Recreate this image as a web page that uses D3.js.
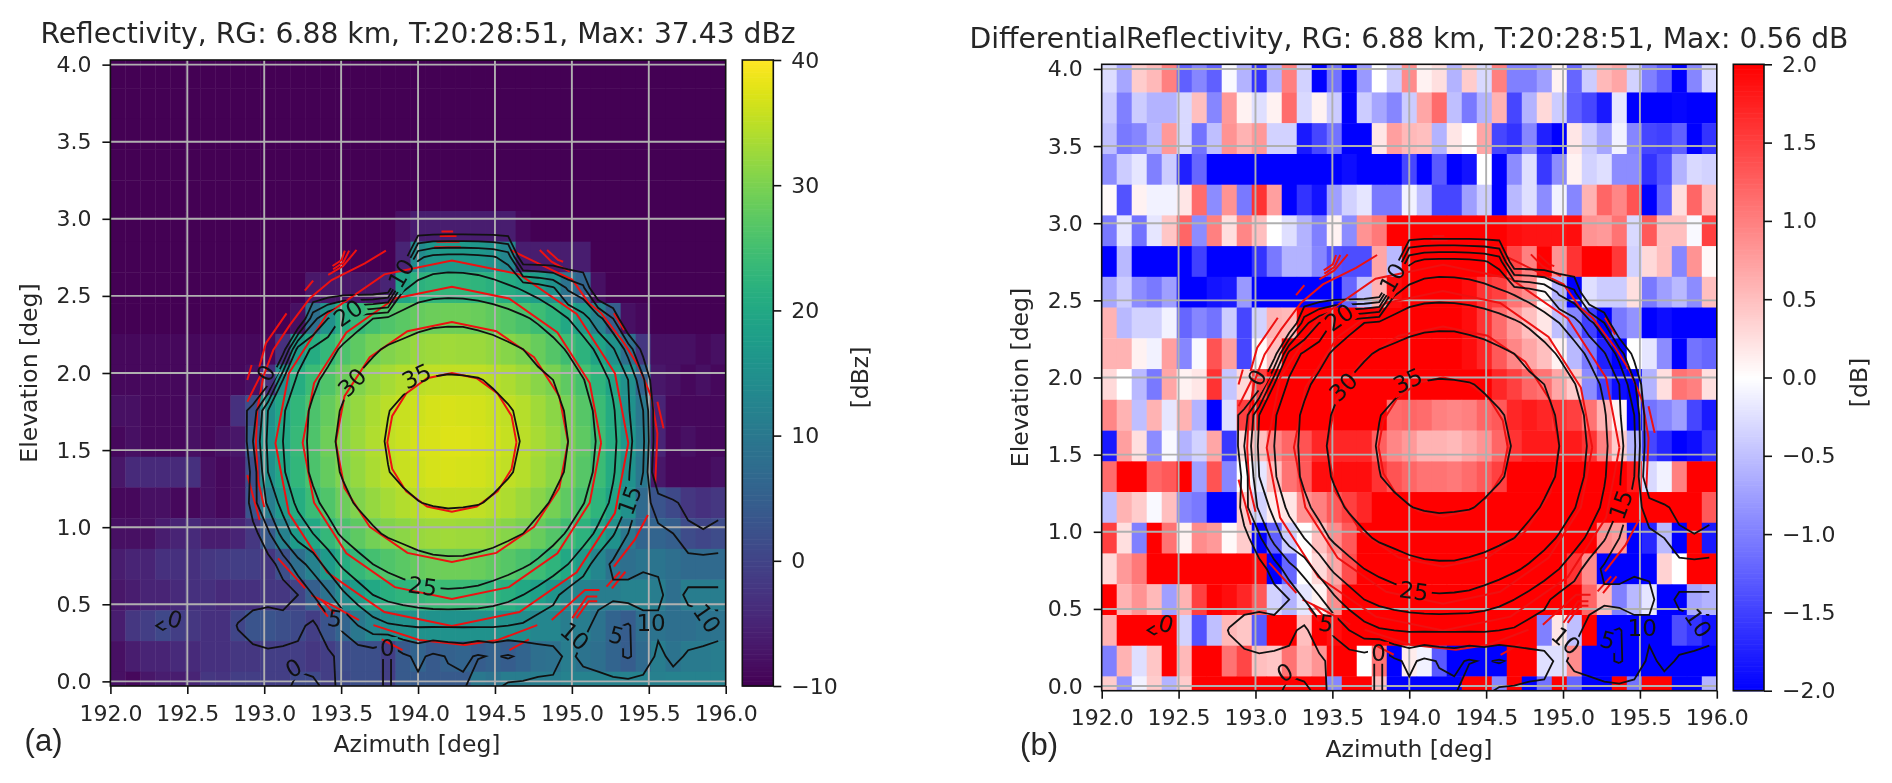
<!DOCTYPE html>
<html>
<head>
<meta charset="utf-8">
<script src="https://cdn.jsdelivr.net/npm/d3@7"></script>
<style>
  html, body { margin: 0; padding: 0; background: #fff; }
  svg { display: block; filter: blur(0.45px); }
  text { font-family: "DejaVu Sans"; fill: #262626; }
</style>
</head>
<body>
<svg id="fig" width="1892" height="783"></svg>
<script>
// grid of the scan: 41 azimuth columns, 21 elevation rows (top row first)
var azimuthTicks = [192, 192.5, 193, 193.5, 194, 194.5, 195, 195.5, 196];
var elevationTicks = [0, 0.5, 1, 1.5, 2, 2.5, 3, 3.5, 4];
var elevations = [3.947, 3.748, 3.549, 3.349, 3.15, 2.951, 2.752, 2.553, 2.354, 2.154, 1.955, 1.756, 1.556, 1.357, 1.158, 0.959, 0.76, 0.56, 0.361, 0.162, -0.037];
var azStep = 4 / 41, elStep = 0.1992;

var reflectivityTicks = [-10, 0, 10, 20, 30, 40];
var zdrTicks = [-2, -1.5, -1, -0.5, 0, 0.5, 1, 1.5, 2];
var contourLevels = [0, 5, 10, 15, 20, 25, 30, 35];

var reflectivity = [
[-10,-10,-10,-10,-10,-10,-10,-10,-10,-10,-10,-10,-10,-10,-10,-10,-10,-10,-10,-10,-10,-10,-10,-10,-10,-10,-10,-10,-10,-10,-10,-10,-10,-10,-10,-10,-10,-10,-10,-10,-10],
[-10,-10,-10,-10,-10,-10,-10,-10,-10,-10,-10,-10,-10,-10,-10,-10,-10,-10,-10,-10,-10,-10,-10,-10,-10,-10,-10,-10,-10,-10,-10,-10,-10,-10,-10,-10,-10,-10,-10,-10,-10],
[-10,-10,-10,-10,-10,-10,-10,-10,-10,-10,-10,-10,-10,-10,-10,-10,-10,-10,-10,-10,-10,-10,-10,-10,-10,-10,-10,-10,-10,-10,-10,-10,-10,-10,-10,-10,-10,-10,-10,-10,-10],
[-10,-10,-10,-10,-10,-10,-10,-10,-10,-10,-10,-10,-10,-10,-10,-10,-10,-10,-10,-10,-10,-10,-10,-10,-10,-10,-10,-10,-10,-10,-10,-10,-10,-10,-10,-10,-10,-10,-10,-10,-10],
[-10,-10,-10,-10,-10,-10,-10,-10,-10,-10,-10,-10,-10,-10,-10,-10,-10,-10,-10,-10,-10,-10,-10,-10,-10,-10,-10,-10,-10,-10,-10,-10,-10,-10,-10,-10,-10,-10,-10,-10,-10],
[-10,-10,-10,-10,-10,-10,-10,-10,-10,-10,-10,-10,-10,-10,-10,-10,-10,-10,-10,-8,-6,-6,-6,-6,-6,-6,-6,-9,-10,-10,-10,-10,-10,-10,-10,-10,-10,-10,-10,-10,-10],
[-10,-10,-10,-10,-10,-10,-10,-10,-10,-10,-10,-10,-10,-10,-10,-10,-10,-10,-10,-5,14,16.5,17,17,16.5,15.5,13,-6,-6,-6,-6,-6,-10,-10,-10,-10,-10,-10,-10,-10,-10],
[-10,-10,-10,-10,-10,-10,-10,-10,-10,-10,-10,-10,-10,-7,-7,-7,-7,-7,-5,19,22,22.8,23,22.8,22.5,21.8,20.8,19.4,17.8,15.5,9,6,-8,-10,-10,-10,-10,-10,-10,-10,-10],
[-10,-10,-10,-10,-10,-10,-10,-10,-10,-10,-10,-10,-8,8,15,21,23.3,25,26.3,27.3,28.2,28.8,29,29,28.5,27.8,26.9,25.7,24.2,22.5,20,17,12,5,-8,-9,-10,-10,-10,-10,-10],
[-9,-9,-9,-9,-9,-9,-9,-9,-9,-9,-9,-3,17,20.8,23.3,25.8,27.5,29.3,30.6,31.4,32.2,32.6,32.8,32.7,32.4,31.9,31,30,28.4,26.6,24.5,22.2,19,15.5,8,-2,-8,-8,-8,-9,-8],
[-9,-9,-9,-9,-9,-9,-9,-9,-9,-8,-3,15,21,24,26.3,28.7,30.6,32,33.2,34.2,34.9,35.3,35.5,35.4,35.2,34.6,33.9,32.6,31.2,30,27.6,25.2,22.5,19,15,6,-7,-8,-9,-8,-9],
[-8,-8,-9,-9,-9,-8,-9,-9,-3,2,15,19.5,23,25.8,28.2,30.5,32.1,33.6,34.9,35.8,36.2,36.7,36.9,36.8,36.5,36,35.3,34.4,32.9,31.3,29.5,26.8,24,20.5,15.5,10,-5,-9,-9,-9,-9],
[-9,-8,-9,-9,-9,-8,-9,-8,-7,5,16,20,23.5,26,29,31,32.5,34,35.3,36,36.7,37,37.4,37.3,37,36.5,35.7,34.8,33.4,32,30,27.6,24.5,21,16.5,11,-5,-9,-8,-9,-9],
[-7,-4,-4,-4,-4,-3,-8,-9,-8,2,15,19.5,23,25.8,28.2,30.5,32.1,33.6,34.9,35.8,36.2,36.7,36.9,36.8,36.5,36,35.3,34.4,32.9,31.3,29.5,26.8,24,20.5,15.5,10,-7,-9,-9,-9,-8],
[-9,-9,-8,-8,-9,-9,-8,-9,-8,3,11,17,21,24,26.3,28.7,30.6,32,33.2,34.2,34.9,35.3,35.5,35.4,35.2,34.6,33.9,32.6,31.2,29.5,27.6,25.2,22.5,19,15,7,3,1,-2,-3,-2],
[-8,-8,-8,-6,-5,-4,-6,-6,-5,-2,4,12,17.5,20,23.3,25.8,27.5,29.3,30.6,31.4,32.2,32.6,32.8,32.7,32.4,31.9,31,30,28.4,26.6,24.5,22.2,19,15.5,10,6,6,5,1.5,0.5,1.5],
[-6,-5,-5,-3,-3,-3,-2,-1.5,-1,-1,-2,2,8,12,17,21,23.3,25,26.3,27.3,28.2,28.8,29,29,28.5,27.8,26.9,25.7,24.2,22.5,20,17,13,9,8,9.3,9.3,8,7,7,7],
[-7,-6,-5,-5,-4,-3,-3,-4,-3,-3,-2,-2,0,5,9,14,17.5,20,21.5,22.5,23.2,23.8,24,23.8,23.5,22.6,21.5,20,18.3,16,13.5,12,11,11,12,12,11,8,11,11,11],
[-6,-2,-1,0.8,-1,-2,-3,-3,0.3,3,3,2,1,-1,3,6,10,13,14.5,15,15.5,15.5,15.5,15.5,15.5,15.5,15,14.5,13,13,11,11,9,6,4.5,8,9,8,8,9,9],
[-8,-6,-5,-5,-4,-4,-3,-3,-2,-2,-1,-1,-1,-2,-1,1.5,2,2,-1,4,6,4,5.3,6,4.5,5.5,4.5,6,8,8.5,11,9,8,6,4.5,7,11,9,10.5,10.5,11],
[-8,-9,-7,-6,-6,-5,-2,-2.5,-1,-1,-1,-1,1,1,-1,1,2,2,-1,4,4,4,4,4,10,9,11,11,11,11,12,12,12,12,12,12,11.5,12,12,12,12]
];

var zdr = [
[-0.27,-0.7,0.4,0.55,1,-1.25,-0.95,-1.25,-0.05,-0.6,-1.6,-0.6,1,-0.35,-2,-1.1,-2,-0.8,0,-0.4,0.9,0.1,0.25,-0.6,0.4,-0.3,1,-1,-1,-0.75,0.1,-1.2,-0.4,0.55,0.7,-0.35,-1,-1.25,-2,-0.95,-0.3],
[-0.4,-1,-0.4,-0.6,-0.6,-0.3,0.5,-0.95,0.8,0.1,-0.25,0.1,1.15,-0.3,0.1,-0.4,-2,-0.4,-0.7,-0.95,-0.4,0.7,1.15,-0.5,-1.05,-0.6,0.6,-1.45,-0.6,0.3,-0.4,-1.25,-1.45,-1.8,-0.2,-2,-2,-2,-1.95,-2,-2],
[-0.5,-1.05,-0.95,-0.55,0.8,-0.3,-1.1,-0.5,0.85,0.6,0.8,-0.35,-0.35,-1.8,-1.45,-1.1,-2,-2,0.2,0.75,0.55,0.5,-0.6,0.2,0,0.7,-1.45,-1.6,-0.95,-1.75,-2,0.2,-0.4,-0.7,-0.1,-0.95,-1.45,-1.5,-1.25,-2,-1.6],
[-0.9,-0.4,-0.2,-1,-0.4,-1.75,-1.2,-2,-2,-2,-2,-2,-2,-2,-2,-2,-1.9,-2,-2,-2,-1.45,-2,-1.3,-2,-1.85,0,-2,-0.9,-0.25,-1.55,-0.9,0.1,-0.35,-0.25,-0.9,-0.9,-1.6,-1.35,-0.6,-0.3,-0.35],
[0.05,-1.35,0.1,-0.1,-0.1,0.2,1.15,-0.9,0.85,-1.05,1.6,0.75,-2,-1.6,-1.85,-0.75,-0.35,-0.2,-1.05,-1.05,-0.1,-0.5,-1.45,-1.45,-0.75,-0.4,-2,-0.55,-0.25,-0.9,-0.1,-0.95,0.6,1.2,0.95,1.35,-2,-1.2,0.25,1.2,0.5],
[-1.05,-0.2,-1.1,-0.2,0.45,1.2,-0.9,1,0.25,0.95,0.5,0,-0.25,-0.6,-1,0.1,-0.9,0.85,1.05,2,2,2,2,2,2,2,2,1.9,1.85,1.85,1.85,1.9,0.85,0.8,1.1,-0.3,1.3,0.5,0.5,-0.05,1.5],
[-2,-0.55,-2,-2,-2,-2,-1.5,-2,-2,-2,-1.6,-1.05,-0.6,-0.6,-0.95,-1.35,-1.4,-1.4,0.7,-0.55,2,2,2,2,2,2,2,1.45,1,2,0.85,1.6,2,2,1.55,-0.35,0.3,0.5,-0.95,0.85,0.05],
[-0.7,-0.4,-0.9,-1.05,-0.75,-2,-2,-1.85,-1.8,-0.8,-2,-2,-2,-2,-2,-2,-1.2,-0.5,0.6,1.9,2,2,2,2,1.9,1.6,1.5,1.1,0.9,0.05,-0.6,-2,-0.25,-0.4,-0.4,0.25,-1.05,-0.75,-0.55,-0.9,0.5],
[0.6,-0.55,-0.35,-0.35,-0.1,-1.2,-0.95,-1.1,-0.4,-1.45,-0.35,0.6,0.55,2,2,2,2,2,2,2,2,2,2,2,1.9,1.6,1.15,0.8,0.5,0.2,-0.5,-0.95,-1.5,-2,-1.05,-0.85,-2,-1.9,-2,-2,-2],
[0.6,0.6,0.1,-0.1,0.75,-0.95,-0.05,1.35,0.75,-1.45,0.05,0.5,2,2,2,2,2,2,2,2,2,2,2,2,1.9,1.7,1.3,0.95,0.7,0.5,0.1,-0.55,-1.05,-1.75,-2,0,-0.2,-0.9,-2,-1.1,-1.2],
[0.3,0,-0.55,-1.05,0.7,0.1,0.2,1.6,-0.45,0.3,1.5,2,2,2,2,2,2,2,2,2,2,2,2,2,2,2,1.7,1.5,1.2,1.1,0.7,0.4,-0.9,-1.5,-1.9,-2,-0.6,0.25,1.1,1,0.25],
[0.95,0.6,-0.5,0.6,-0.2,0.6,-0.6,-2,-0.25,1.5,2,2,2,2,2,2,2,2,2,1.15,1.2,1.15,1,0.95,1,1.2,1.3,1.7,1.8,1.7,1.6,1.5,1.1,0.6,0.1,-2,-1.1,-0.95,-0.75,-1.45,-1.8],
[-1.8,0.75,0.25,-0.9,-0.05,-0.6,-0.35,0.7,-1.55,0.3,0.5,0.95,1.2,1.35,1.7,1.7,1.7,1.7,1.25,0.95,0.8,0.6,0.6,0.55,0.7,0.85,1.2,1.6,1.8,1.8,1.8,1.8,1.6,1,0.4,-0.6,-1.45,-1.7,-2,-1.9,-1.6],
[1.15,2,2,1.2,1.3,2,-0.75,1.35,-0.95,0,-0.2,0.5,1.1,1.3,1.9,1.9,1.9,1.9,1.6,1.35,1.2,1.1,1.1,1.05,1.15,1.3,1.5,2,2,2,2,2,2,2,2,1.8,-0.3,-0.1,1,2,2],
[-0.5,0.6,0.4,-0.05,0.5,-0.95,-1.05,-2,-2,0.4,-0.35,0.15,0.2,0.85,1,1.3,1.5,1.7,2,2,2,2,2,2,2,2,2,2,2,2,2,2,2,2,2,2,2,2,2,2,1.3],
[1.5,0.25,-1,2,1.1,0.1,0.9,0.8,0.05,0.4,-2,-1.25,-0.4,0,0.5,0.9,1.3,2,2,2,2,2,2,2,2,2,2,2,2,2,2,2,2,0.9,0.8,-2,-1.7,-0.55,-2,2,-1.8],
[0.3,0.8,1.05,2,2,2,2,2,2,2,1.9,-2,-1.2,0,0.3,0.7,1.4,2,2,2,2,2,2,2,2,2,2,2,2,2,2,1.6,0.9,-2,-2,-2,-2,0.35,0,2,2],
[2,0.6,0.85,0.55,-0.75,0.6,1.5,2,1.9,1.7,1.3,-0.35,-0.6,-0.2,0.1,0.9,2,2,2,2,2,2,2,2,2,2,2,2,2,2,2,2,1.2,0.55,-1,-0.55,-0.2,-2,-2,-0.7,-0.6],
[0.6,2,2,2,2,-0.35,-1.35,-0.5,0.55,0.45,-1.3,2,2,0.5,2,1.9,2,2,2,2,2,2,2,2,2,2,2,2,2,-1,0.2,-0.5,2,-2,-2,-2,-2,-2,-1.4,-1.6,-1.85],
[-1,0.6,-0.25,0.45,2,0.55,2,2,1.1,1.45,0.5,0.45,1.1,0.6,0.85,2,2,0,1.1,-2,0.15,-0.1,-1.3,-2,-2,-2,-2,2,2,-0.25,-0.25,0.9,-2,-2,-2,-2,-2,-2,-2,-2,-2],
[0.4,-0.85,-0.1,0.4,-0.6,0.4,2,2,2,2,2,2,2,2,2,-0.95,2,2,0.5,-2,-2,-2,-2,-2,2,2,-0.95,2,-2,-1.1,2,-1.2,-2,-2,2,-1.1,2,2,-2,-2,-0.6]
];

var redRings = [
[[194.64,1.55],[194.608,1.722],[194.517,1.868],[194.381,1.966],[194.22,2],[194.059,1.966],[193.923,1.868],[193.832,1.722],[193.8,1.55],[193.832,1.378],[193.923,1.232],[194.059,1.134],[194.22,1.1],[194.381,1.134],[194.517,1.232],[194.608,1.378]],
[[194.975,1.552],[194.918,1.85],[194.754,2.102],[194.509,2.271],[194.22,2.33],[193.931,2.271],[193.686,2.102],[193.522,1.85],[193.465,1.552],[193.522,1.254],[193.686,1.002],[193.931,0.833],[194.22,0.774],[194.509,0.833],[194.754,1.002],[194.918,1.254]],
[[195.19,1.547],[195.116,1.935],[194.906,2.263],[194.591,2.483],[194.22,2.56],[193.849,2.483],[193.534,2.263],[193.324,1.935],[193.25,1.547],[193.324,1.159],[193.534,0.831],[193.849,0.611],[194.22,0.534],[194.591,0.611],[194.906,0.831],[195.116,1.159]],
[[195.367,1.545],[195.28,1.998],[195.031,2.383],[194.659,2.64],[194.22,2.73],[193.781,2.64],[193.409,2.383],[193.16,1.998],[193.073,1.545],[193.16,1.092],[193.409,0.707],[193.781,0.45],[194.22,0.36],[194.659,0.45],[195.031,0.707],[195.28,1.092]]
];
var redArcs = [
[[193.791,2.794],[193.654,2.711],[193.438,2.603],[193.297,2.485],[193.167,2.312],[193.059,2.149],[192.994,1.976],[192.955,1.76],[192.946,1.544],[192.96,1.3],[193,1.13]],
[[192.89,1.338],[192.97,1.046]],
[[193.09,0.798],[193.266,0.603]],
[[193.306,0.56],[193.44,0.495],[193.616,0.398]],
[[193.347,0.506],[193.414,0.42]],
[[193.374,0.528],[193.455,0.441]],
[[193.71,0.365],[194.007,0.268],[194.303,0.236],[194.519,0.268],[194.775,0.365]],
[[193.764,0.273],[193.899,0.203]],
[[194.594,0.203],[194.721,0.273]],
[[194.869,0.398],[195.085,0.592],[195.179,0.592]],
[[195.003,0.41],[195.098,0.55],[195.165,0.55]],
[[195.03,0.41],[195.11,0.52],[195.165,0.52]],
[[195.225,0.614],[195.313,0.711]],
[[195.26,0.603],[195.348,0.711]],
[[195.273,0.744],[195.408,0.917],[195.494,1.079]],
[[194.6,2.798],[194.869,2.669],[195.004,2.604],[195.111,2.452],[195.192,2.387],[195.34,2.193],[195.435,2.041],[195.516,1.847],[195.556,1.609],[195.542,1.284]],
[[195.273,2.387],[195.34,2.279]],
[[194.791,2.798],[194.867,2.722],[194.986,2.657]],
[[194.839,2.798],[194.91,2.733],[194.943,2.722]],
[[195.556,1.814],[195.596,1.641]],
[[193.524,2.794],[193.503,2.733],[193.444,2.694]],
[[193.552,2.794],[193.513,2.716],[193.448,2.673]],
[[193.6,2.798],[193.513,2.694],[193.416,2.636]],
[[193.318,2.599],[193.264,2.534]],
[[193.145,2.387],[193.011,2.193],[192.968,2.041]],
[[192.983,1.998],[192.89,1.814]],
[[192.918,2.052],[192.89,1.955]],
[[194.152,2.917],[194.228,2.917]],
[[194.141,2.889],[194.25,2.889]],
[[194.12,2.852],[194.27,2.852]],
[[194.105,2.815],[194.278,2.815]]
];

// contour labels: text, azimuth, elevation, rotation
var contourLabels = [
["20", 193.544, 2.39, -35], ["10", 193.89, 2.647, -60], ["0", 193.01, 2.0, -60],
["30", 193.57, 1.94, -45], ["35", 193.99, 1.98, -25], ["25", 194.03, 0.618, 8],
["15", 195.375, 1.176, -70], ["5", 193.46, 0.408, 10], ["0", 192.42, 0.404, 15],
["0", 193.19, 0.088, -30], ["0", 193.8, 0.216, 0], ["10", 195.02, 0.294, 40],
["5", 195.29, 0.3, 15], ["10", 195.515, 0.38, 0], ["10", 195.88, 0.409, 55]
];

var svg = d3.select("#fig");
var flatRefl = d3.merge(reflectivity);
var blackContours = d3.contours().size([41, 21]).thresholds(contourLevels)(flatRefl);

// d3 closes every ring along the grid border, matplotlib stops there, so cut those parts off
function openRuns(ring) {
  function onEdge(p) { return p[0] <= 0 || p[0] >= 41 || p[1] <= 0 || p[1] >= 21; }
  var pts = ring.slice(0, ring.length - 1);
  var first = pts.findIndex(onEdge);
  if (first < 0) return [ring];
  pts = pts.slice(first).concat(pts.slice(0, first));
  var runs = [], cur = [];
  pts.forEach(function(p) {
    if (onEdge(p)) { if (cur.length > 1) runs.push(cur); cur = []; }
    else cur.push(p);
  });
  if (cur.length > 1) runs.push(cur);
  return runs;
}
var blackRuns = [];
blackContours.forEach(function(c) {
  c.coordinates.forEach(function(poly) {
    poly.forEach(function(ring) { blackRuns = blackRuns.concat(openRuns(ring)); });
  });
});

function drawPanel(id, box, rows, color) {
  var x = d3.scaleLinear().domain([192, 196]).range([box.left, box.right]);
  var y = d3.scaleLinear().domain([-0.03, 4.03]).range([box.bottom, box.top]);
  var g = svg.append("g");

  var clip = svg.append("clipPath").attr("id", "clip" + id);
  clip.append("rect").attr("x", box.left).attr("y", box.top)
      .attr("width", box.right - box.left).attr("height", box.bottom - box.top);

  // heat cells
  var heat = g.append("g").attr("clip-path", "url(#clip" + id + ")");
  rows.forEach(function(row, j) {
    heat.selectAll(".r" + j).data(row).enter().append("rect")
        .attr("x", function(d, i) { return x(192 + i * azStep); })
        .attr("width", x(192 + azStep) - x(192) + 0.4)
        .attr("y", y(elevations[j] + elStep / 2))
        .attr("height", y(0) - y(elStep) + 0.4)
        .attr("fill", function(d) { return color(d); });
  });

  // grid
  var grid = g.append("g").attr("clip-path", "url(#clip" + id + ")")
      .attr("stroke", "#b0b0b0").attr("stroke-width", 1.9);
  grid.selectAll(".gx").data(azimuthTicks.slice(1, 8)).enter().append("line")
      .attr("x1", function(d) { return x(d); }).attr("x2", function(d) { return x(d); })
      .attr("y1", box.top).attr("y2", box.bottom);
  grid.selectAll(".gy").data(elevationTicks).enter().append("line")
      .attr("y1", function(d) { return y(d); }).attr("y2", function(d) { return y(d); })
      .attr("x1", box.left).attr("x2", box.right);

  // gaps in the black lines where the labels sit
  var mask = svg.append("mask").attr("id", "gap" + id).attr("maskUnits", "userSpaceOnUse")
      .attr("x", 0).attr("y", 0).attr("width", 1892).attr("height", 783);
  mask.append("rect").attr("width", 1892).attr("height", 783).attr("fill", "#fff");
  mask.selectAll("rect.gap").data(contourLabels).enter().append("rect")
      .attr("class", "gap").attr("fill", "#000")
      .attr("x", function(d) { return -d[0].length * 7.5 - 3; }).attr("y", -11)
      .attr("width", function(d) { return d[0].length * 15 + 6; }).attr("height", 22)
      .attr("transform", function(d) { return "translate(" + x(d[1]) + "," + y(d[2]) + ") rotate(" + d[3] + ")"; });

  var overlay = g.append("g").attr("clip-path", "url(#clip" + id + ")").attr("fill", "none");
  var gridLine = d3.line()
      .x(function(d) { return x(192 + d[0] * azStep); })
      .y(function(d) { return y(elevations[0] - (d[1] - 0.5) * elStep); });
  var dataLine = d3.line()
      .x(function(d) { return x(d[0]); })
      .y(function(d) { return y(d[1]); });

  overlay.append("g").attr("stroke", "#ee1111").attr("stroke-width", 2)
    .selectAll("path").data(redRings.map(function(r) { return r.concat([r[0]]); }).concat(redArcs)).enter().append("path")
      .attr("d", dataLine);

  overlay.append("g").attr("mask", "url(#gap" + id + ")")
      .attr("stroke", "#111").attr("stroke-width", 1.8)
    .selectAll("path").data(blackRuns).enter().append("path")
      .attr("d", gridLine);

  g.selectAll("text.lab").data(contourLabels).enter().append("text")
      .attr("class", "lab")
      .attr("text-anchor", "middle").attr("dy", "0.36em")
      .attr("font-size", 23)
      .attr("transform", function(d) { return "translate(" + x(d[1]) + "," + y(d[2]) + ") rotate(" + d[3] + ")"; })
      .style("fill", "#111")
      .text(function(d) { return d[0]; });

  g.append("rect").attr("x", box.left).attr("y", box.top)
      .attr("width", box.right - box.left).attr("height", box.bottom - box.top)
      .attr("fill", "none").attr("stroke", "#111").attr("stroke-width", 1.6);

  var xAxis = g.append("g").attr("transform", "translate(0," + box.bottom + ")")
      .call(d3.axisBottom(x).tickValues(azimuthTicks).tickFormat(d3.format(".1f")).tickSize(8).tickPadding(11));
  var yAxis = g.append("g").attr("transform", "translate(" + box.left + ",0)")
      .call(d3.axisLeft(y).tickValues(elevationTicks).tickFormat(d3.format(".1f")).tickSize(8).tickPadding(11));
  [xAxis, yAxis].forEach(function(a) {
    a.select(".domain").remove();
    a.selectAll("line").attr("stroke", "#111").attr("stroke-width", 1.6);
    a.selectAll("text").attr("font-size", 22).attr("font-family", "DejaVu Sans").style("fill", "#262626");
  });
  return { x: x, y: y };
}

function drawColorbar(box, color, domain, ticks, fmt) {
  var y = d3.scaleLinear().domain(domain).range([box.bottom, box.top]);
  var steps = d3.range(0, 256);
  var g = svg.append("g");
  g.selectAll("rect").data(steps).enter().append("rect")
      .attr("x", box.left).attr("width", box.right - box.left)
      .attr("y", function(d) { return y(domain[0] + (d + 1) / 256 * (domain[1] - domain[0])); })
      .attr("height", (box.bottom - box.top) / 256 + 0.6)
      .attr("fill", function(d) { return color(domain[0] + (d + 0.5) / 256 * (domain[1] - domain[0])); });
  g.append("rect").attr("x", box.left).attr("y", box.top)
      .attr("width", box.right - box.left).attr("height", box.bottom - box.top)
      .attr("fill", "none").attr("stroke", "#111").attr("stroke-width", 1.6);
  var a = g.append("g").attr("transform", "translate(" + box.right + ",0)")
      .call(d3.axisRight(y).tickValues(ticks).tickFormat(fmt).tickSize(8).tickPadding(10));
  a.select(".domain").remove();
  a.selectAll("line").attr("stroke", "#111").attr("stroke-width", 1.6);
  a.selectAll("text").attr("font-size", 22).attr("font-family", "DejaVu Sans").style("fill", "#262626");
}

function addText(str, px, py, size, rot, family) {
  var t = svg.append("text").attr("text-anchor", "middle").attr("font-size", size)
      .attr("transform", "translate(" + px + "," + py + ")" + (rot ? " rotate(" + rot + ")" : ""))
      .text(str);
  if (family) t.style("font-family", family);
}

var viridis = d3.scaleSequential(d3.interpolateViridis).domain([-10, 40]);
var bwr = d3.scaleLinear().domain([-2, 0, 2]).range(["#0000ff", "#ffffff", "#ff0000"]).clamp(true);

drawPanel("a", { left: 110.4, right: 725.7, top: 60, bottom: 686 }, reflectivity, viridis);
drawPanel("b", { left: 1101.7, right: 1716.8, top: 64.3, bottom: 690.7 }, zdr, bwr);
drawColorbar({ left: 742.3, right: 773.3, top: 60, bottom: 686 }, viridis, [-10, 40], reflectivityTicks, d3.format("d"));
drawColorbar({ left: 1733.3, right: 1764, top: 64.3, bottom: 690.7 }, bwr, [-2, 2], zdrTicks, function(d) { return d3.format(".1f")(d).replace("-", "\u2212"); });

addText("Reflectivity, RG: 6.88 km, T:20:28:51, Max: 37.43 dBz", 418, 42.5, 28.2);
addText("DifferentialReflectivity, RG: 6.88 km, T:20:28:51, Max: 0.56 dB", 1409, 47.5, 28.2);
addText("Azimuth [deg]", 417, 752, 23.5);
addText("Azimuth [deg]", 1409, 756.5, 23.5);
addText("Elevation [deg]", 37, 373, 23.5, -90);
addText("Elevation [deg]", 1028, 377.5, 23.5, -90);
addText("[dBz]", 868, 377.5, 23.5, -90);
addText("[dB]", 1867, 382.5, 23.5, -90);
addText("(a)", 43.5, 751, 31, 0, "Liberation Sans");
addText("(b)", 1039, 755, 31, 0, "Liberation Sans");
</script>
</body>
</html>
